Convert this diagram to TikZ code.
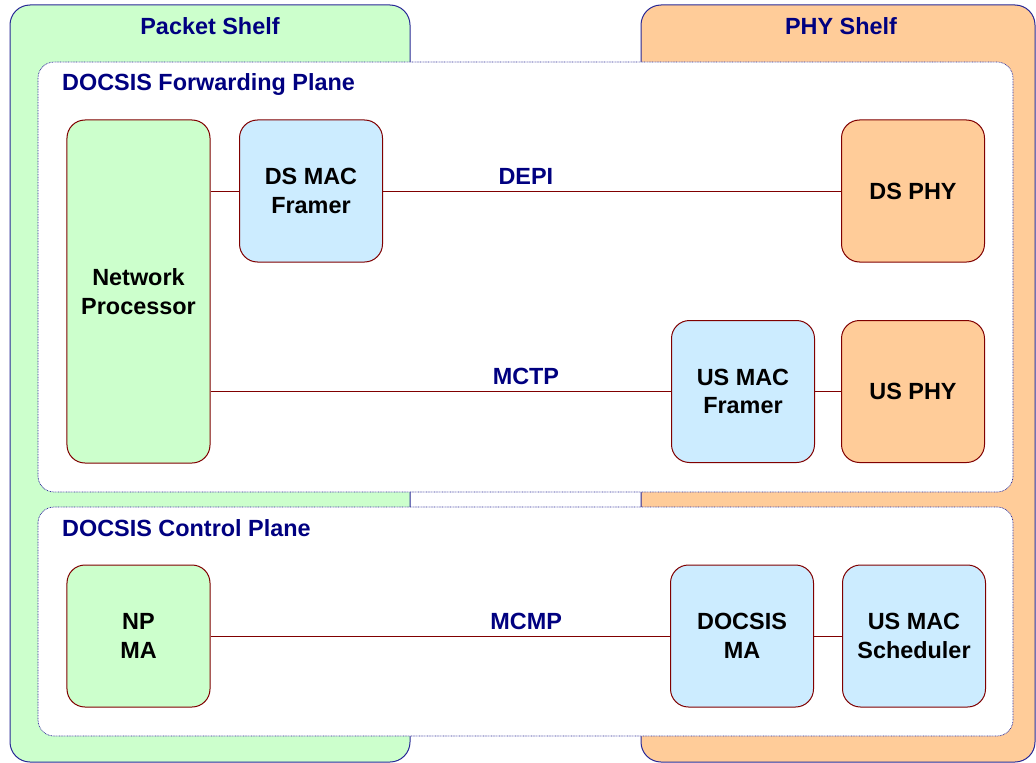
\documentclass[tikz,border=0pt]{standalone}
\usepackage{fontspec}
\setmainfont{Liberation Sans}
\definecolor{shelfline}{RGB}{40,40,150}
\definecolor{titlenavy}{RGB}{0,0,128}
\definecolor{boxline}{RGB}{128,0,0}
\definecolor{pktgreen}{RGB}{204,255,204}
\definecolor{phyorange}{RGB}{255,204,153}
\definecolor{macblue}{RGB}{204,236,255}
\begin{document}
\begin{tikzpicture}[x=1bp,y=-1bp,
  every node/.style={font=\fontsize{23.5}{28.5}\selectfont\bfseries},
  shelf/.style={draw=shelfline,line width=1bp,rounded corners=20bp,inner sep=0pt},
  plane/.style={draw=shelfline,fill=white,line width=0.7bp,dash pattern=on 0.8bp off 0.8bp,rounded corners=16bp},
  unit/.style={draw=boxline,line width=1bp,rounded corners=18bp,inner sep=0pt,
    minimum width=143bp,minimum height=142bp,align=center,text=black},
  title/.style={text=titlenavy,inner sep=0pt},
  link/.style={draw=boxline,line width=1bp}]
\useasboundingbox (0,0) rectangle (1036,763);

% shelves
\draw[shelf,fill=pktgreen] (10,5) rectangle (410,762);
\draw[shelf,fill=phyorange] (641,5) rectangle (1035,762);
\node[title] (pkttitle) at (210,26) {Packet Shelf};
\node[title] (phytitle) at (841,26) {PHY Shelf};

% planes
\draw[plane] (38,62) rectangle (1013,492);
\draw[plane] (38,507) rectangle (1013,736);
\node[title,anchor=west] (fwdtitle) at (62,84) {DOCSIS Forwarding Plane};
\node[title,anchor=west] (ctltitle) at (62,528) {DOCSIS Control Plane};

% forwarding plane
\node[unit,fill=pktgreen,minimum height=343bp] (np) at (138.5,291.5) {Network\\Processor};
\node[unit,fill=macblue] (dsmac) at (311,191) {DS MAC\\Framer};
\node[unit,fill=phyorange] (dsphy) at (913,191) {DS PHY};
\node[unit,fill=macblue] (usmac) at (743,391.5) {US MAC\\Framer};
\node[unit,fill=phyorange] (usphy) at (913,391.5) {US PHY};

% control plane
\node[unit,fill=pktgreen] (npma) at (138.5,636) {NP\\MA};
\node[unit,fill=macblue] (dma) at (742,636) {DOCSIS\\MA};
\node[unit,fill=macblue] (sched) at (914,636) {US MAC\\Scheduler};

% interfaces
\draw[link] (np.east |- dsmac.west) -- (dsmac.west);
\draw[link] (dsmac.east) -- node[title,above=6bp,pos=0.312] (depi) {DEPI} (dsphy.west);
\draw[link] (np.east |- usmac.west) -- node[title,above=6bp,pos=0.685] (mctp) {MCTP} (usmac.west);
\draw[link] (usmac.east) -- (usphy.west);
\draw[link] (npma.east) -- node[title,above=6bp,pos=0.687] (mcmp) {MCMP} (dma.west);
\draw[link] (dma.east) -- (sched.west);
\end{tikzpicture}
\end{document}
